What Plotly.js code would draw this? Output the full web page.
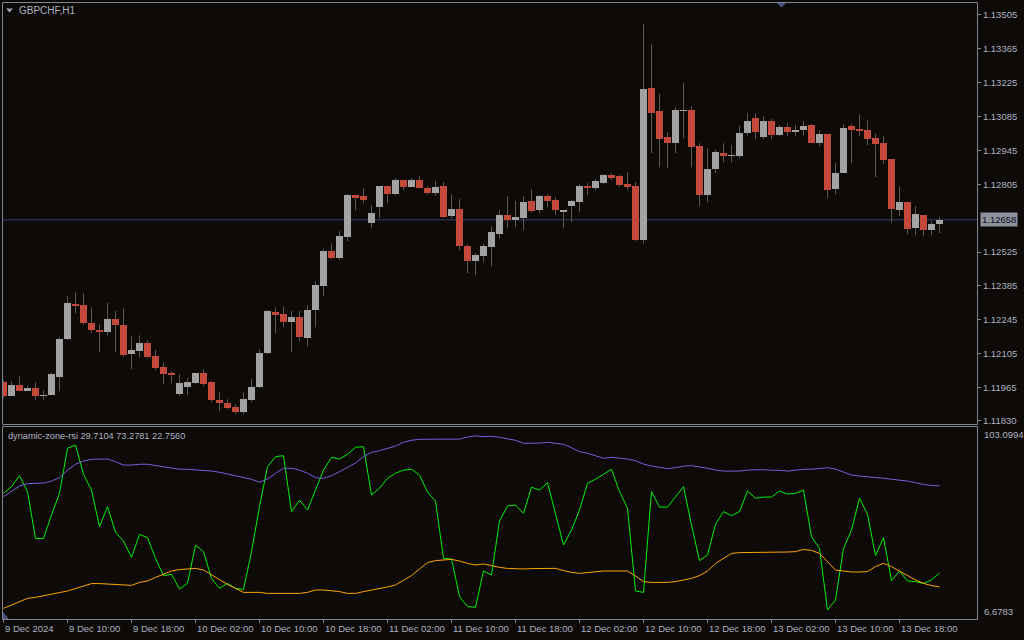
<!DOCTYPE html>
<html><head><meta charset="utf-8">
<script src="https://cdn.plot.ly/plotly-3.0.1.min.js"></script>
<style>html,body{margin:0;padding:0;background:#0d0a08;overflow:hidden}#chart{width:1024px;height:640px;}</style>
</head><body><div id="chart"></div>
<script>
// ---------------- data ----------------
const symbolLabel = "GBPCHF,H1";
const indicatorName = "dynamic-zone-rsi";

const open = [1.11987,1.11930,1.11975,1.11950,1.11963,1.11930,1.11934,1.12008,1.12165,1.12309,
1.12305,1.12231,1.12202,1.12194,1.12248,1.12223,1.12103,1.12115,1.12148,1.12095,
1.12049,1.12025,1.11938,1.11967,1.11983,1.12025,1.11987,1.11913,1.11901,1.11884,
1.11863,1.11913,1.11967,1.12107,1.12276,1.12268,1.12235,1.12256,1.12169,1.12285,
1.12384,1.12528,1.12499,1.12586,1.12760,1.12756,1.12644,1.12710,1.12797,1.12764,
1.12822,1.12793,1.12822,1.12789,1.12768,1.12797,1.12673,1.12702,1.12549,1.12487,
1.12508,1.12545,1.12599,1.12677,1.12656,1.12665,1.12735,1.12698,1.12756,1.12739,
1.12689,1.12714,1.12731,1.12797,1.12789,1.12809,1.12842,1.12838,1.12805,1.12797,
1.12574,1.13202,1.13107,1.12999,1.12974,1.13107,1.13111,1.12962,1.12760,1.12867,
1.12933,1.12921,1.12921,1.13016,1.13078,1.12999,1.13065,1.13007,1.13041,1.13020,
1.13028,1.13049,1.12974,1.13012,1.12784,1.12851,1.13045,1.13032,1.13028,1.12995,
1.12974,1.12908,1.12698,1.12731,1.12623,1.12677,1.12615,1.12640];

const high = [1.11996,1.11992,1.12012,1.11971,1.11987,1.11954,1.12025,1.12173,1.12343,1.12359,
1.12355,1.12297,1.12227,1.12314,1.12281,1.12293,1.12177,1.12181,1.12161,1.12120,
1.12070,1.12033,1.12020,1.12004,1.12025,1.12041,1.11992,1.11946,1.11917,1.11897,
1.11946,1.12000,1.12124,1.12285,1.12297,1.12301,1.12281,1.12281,1.12305,1.12404,
1.12537,1.12561,1.12611,1.12764,1.12760,1.12789,1.12718,1.12797,1.12797,1.12830,
1.12822,1.12830,1.12838,1.12797,1.12818,1.12813,1.12764,1.12743,1.12557,1.12520,
1.12561,1.12632,1.12698,1.12756,1.12735,1.12756,1.12784,1.12760,1.12764,1.12751,
1.12698,1.12739,1.12805,1.12809,1.12826,1.12846,1.12851,1.12842,1.12855,1.12813,
1.13466,1.13383,1.13177,1.13020,1.13123,1.13222,1.13127,1.12974,1.12954,1.12946,
1.12974,1.12966,1.13045,1.13098,1.13098,1.13086,1.13074,1.13049,1.13057,1.13049,
1.13065,1.13053,1.13028,1.13012,1.12892,1.13053,1.13053,1.13094,1.13069,1.13012,
1.13003,1.12908,1.12797,1.12731,1.12714,1.12677,1.12652,1.12669];

const low = [1.11921,1.11930,1.11950,1.11950,1.11913,1.11913,1.11934,1.11950,1.12161,1.12272,
1.12223,1.12190,1.12111,1.12181,1.12111,1.12091,1.12041,1.12091,1.12087,1.12037,
1.11979,1.11983,1.11930,1.11934,1.11979,1.11971,1.11905,1.11868,1.11876,1.11855,
1.11855,1.11905,1.11963,1.12103,1.12190,1.12214,1.12111,1.12157,1.12136,1.12214,
1.12343,1.12495,1.12491,1.12570,1.12698,1.12727,1.12623,1.12665,1.12727,1.12760,
1.12780,1.12793,1.12789,1.12764,1.12756,1.12665,1.12665,1.12533,1.12438,1.12429,
1.12483,1.12466,1.12582,1.12623,1.12628,1.12615,1.12689,1.12685,1.12710,1.12677,
1.12623,1.12648,1.12689,1.12760,1.12780,1.12805,1.12822,1.12793,1.12780,1.12570,
1.12561,1.12933,1.12875,1.12871,1.12933,1.12995,1.12875,1.12714,1.12731,1.12851,
1.12896,1.12896,1.12912,1.13007,1.12991,1.12991,1.12991,1.13003,1.13003,1.13003,
1.13007,1.12974,1.12962,1.12747,1.12764,1.12851,1.12892,1.13003,1.12966,1.12834,
1.12888,1.12644,1.12673,1.12599,1.12594,1.12590,1.12594,1.12603];

const close = [1.11930,1.11975,1.11950,1.11963,1.11930,1.11934,1.12020,1.12165,1.12314,1.12301,
1.12231,1.12202,1.12194,1.12248,1.12223,1.12099,1.12120,1.12148,1.12091,1.12045,
1.12020,1.12016,1.11983,1.11987,1.12025,1.11979,1.11913,1.11901,1.11880,1.11863,
1.11917,1.11967,1.12107,1.12281,1.12264,1.12235,1.12256,1.12173,1.12285,1.12388,
1.12528,1.12499,1.12590,1.12760,1.12747,1.12739,1.12685,1.12797,1.12764,1.12822,
1.12793,1.12822,1.12789,1.12768,1.12793,1.12669,1.12702,1.12549,1.12487,1.12512,
1.12549,1.12607,1.12677,1.12656,1.12669,1.12731,1.12694,1.12756,1.12735,1.12698,
1.12698,1.12735,1.12797,1.12789,1.12818,1.12842,1.12830,1.12801,1.12793,1.12574,
1.13197,1.13098,1.12991,1.12974,1.13111,1.13111,1.12958,1.12760,1.12867,1.12937,
1.12921,1.12925,1.13016,1.13065,1.13020,1.13065,1.13007,1.13041,1.13020,1.13028,
1.13045,1.12974,1.13012,1.12780,1.12851,1.13036,1.13028,1.13024,1.12991,1.12970,
1.12904,1.12702,1.12731,1.12619,1.12681,1.12615,1.12640,1.12658];

const rsi = [69.6,72.9,78.4,70.4,47.0,47.0,58.7,69.6,92.1,93.7,
79.1,71.2,52.9,62.9,50.0,45.7,37.5,49.0,47.4,37.0,
28.4,29.0,21.7,24.5,43.7,40.4,27.0,22.0,24.5,22.0,
21.5,40.4,62.9,82.9,87.9,88.4,60.4,66.1,61.2,71.2,
81.2,87.6,86.7,89.1,92.6,92.9,68.7,72.1,77.1,79.6,
81.2,81.6,78.7,70.1,65.7,37.0,36.7,17.9,12.9,12.5,
30.7,28.7,55.7,63.2,63.7,59.6,72.6,71.2,74.9,59.4,
43.7,51.2,61.2,74.6,76.6,79.1,81.6,70.4,62.1,20.7,
20.0,70.4,62.7,62.7,67.9,72.9,53.7,35.9,38.7,54.1,
60.4,58.4,60.4,70.7,67.1,67.7,67.7,70.7,69.2,69.6,
71.1,47.9,42.0,11.2,16.2,42.0,51.2,67.1,59.1,38.4,
47.4,25.9,30.7,25.7,25.4,24.5,26.2,29.7104];

const upperZone = [67.9,70.7,73.2,74.4,74.6,74.7,75.7,77.4,81.2,84.1,
85.7,86.6,86.7,86.7,85.4,83.7,83.7,84.1,84.1,83.4,
82.9,82.1,81.6,81.6,81.4,80.9,80.7,80.1,79.2,78.4,
77.7,76.6,75.1,76.7,79.6,82.1,82.1,81.2,79.6,77.4,
77.1,78.4,80.4,82.4,84.7,87.9,90.1,90.9,92.1,93.2,
95.1,96.1,96.6,96.6,96.9,96.9,96.6,96.7,97.7,98.3,
97.9,98.1,97.6,96.9,96.1,94.6,94.6,94.7,95.1,94.7,
94.1,92.4,90.4,89.6,88.2,87.1,87.6,87.2,86.7,85.9,
84.2,83.2,82.4,81.9,82.4,83.2,83.4,82.9,82.1,81.2,
80.7,80.7,80.7,81.2,81.4,81.4,81.1,81.1,80.7,81.2,
81.6,81.6,82.1,82.4,81.7,80.1,78.7,78.2,77.9,77.4,
77.1,76.6,76.2,75.7,74.9,74.0,73.5,73.2781];

const lowerZone = [12.0,13.7,15.4,17.0,17.5,18.2,19.0,19.9,20.7,22.0,
23.4,24.4,24.4,24.2,23.9,23.5,23.5,25.0,25.7,27.5,
29.0,30.7,31.4,31.7,32.0,31.2,28.7,26.2,24.0,22.0,
20.0,20.0,20.0,19.5,19.5,19.5,19.5,19.5,20.0,21.2,
21.2,20.9,20.4,19.5,19.5,20.4,21.2,21.7,22.7,23.7,
26.2,28.4,31.7,34.9,35.9,36.2,36.5,35.7,34.5,33.7,
34.2,33.4,32.5,32.0,31.7,31.7,31.9,32.0,32.0,32.0,
30.9,30.0,29.5,30.0,30.4,30.7,30.7,30.7,30.7,28.2,
25.4,25.0,25.0,25.0,25.4,26.2,27.0,28.4,30.7,34.5,
37.0,39.5,39.9,39.9,40.2,40.2,40.2,40.2,40.2,40.4,
41.5,41.0,39.5,35.4,31.2,30.7,30.2,30.2,30.4,32.9,
34.5,32.9,30.7,28.2,26.2,24.5,23.4,22.756];

const priceTicks = [1.13505,1.13365,1.13225,1.13085,1.12945,1.12805,1.12525,1.12385,1.12245,1.12105,1.11965,1.11830];
const timeTickIndex = [0,8,16,24,32,40,48,56,64,72,80,88,96,104,112];
const timeTickLabels = ["9 Dec 2024","9 Dec 10:00","9 Dec 18:00","10 Dec 02:00","10 Dec 10:00","10 Dec 18:00",
"11 Dec 02:00","11 Dec 10:00","11 Dec 18:00","12 Dec 02:00","12 Dec 10:00","12 Dec 18:00",
"13 Dec 02:00","13 Dec 10:00","13 Dec 18:00"];
const bidPrice = 1.12658;
const indMax = 103.0994, indMin = 6.6783;
const priceMin = 1.11814, priceMax = 1.13553;

// ---------------- styling ----------------
const BG = '#0d0a08';
const BULL = '#a3a3a3', BEAR = '#c4493a', WICK = '#575757';
const FRAME = '#7f8495', TXT = '#aeb3c1';
const FONT = 'Liberation Sans, Arial, sans-serif';
const AXFS = 9.5;

const n = open.length;
const idx = open.map((_, i) => i);

// layout helpers: pixel -> paper coords
const L = 3, R = 977, T = 3, B = 619;
const PX = p => (p - L) / (R - L);
const PY = p => (B - p) / (B - T);

// bodies
const bullX = [], bullBase = [], bullH = [], bearX = [], bearBase = [], bearH = [];
const minBody = 0.00004;
for (let i = 0; i < n; i++) {
  if (close[i] >= open[i]) { bullX.push(i); bullBase.push(open[i]); bullH.push(Math.max(close[i] - open[i], minBody)); }
  else { bearX.push(i); bearBase.push(close[i]); bearH.push(Math.max(open[i] - close[i], minBody)); }
}
// wicks (upper and lower parts, not crossing bodies)
const wx = [], wy = [];
for (let i = 0; i < n; i++) {
  const top = Math.max(open[i], close[i]), bot = Math.min(open[i], close[i]);
  if (high[i] > top) { wx.push(i, i, null); wy.push(high[i], top, null); }
  if (low[i] < bot) { wx.push(i, i, null); wy.push(bot, low[i], null); }
}

const traces = [
  {type: 'scatter', mode: 'lines', x: wx, y: wy, line: {color: WICK, width: 1}, xaxis: 'x', yaxis: 'y', hoverinfo: 'skip', connectgaps: false},
  {type: 'bar', x: bullX, y: bullH, base: bullBase, width: 0.875, marker: {color: BULL, line: {width: 0}}, xaxis: 'x', yaxis: 'y'},
  {type: 'bar', x: bearX, y: bearH, base: bearBase, width: 0.875, marker: {color: BEAR, line: {width: 0}}, xaxis: 'x', yaxis: 'y'},
  {type: 'scatter', mode: 'lines', x: idx, y: rsi, line: {color: '#00f000', width: 1}, xaxis: 'x2', yaxis: 'y2'},
  {type: 'scatter', mode: 'lines', x: idx, y: upperZone, line: {color: '#7462e0', width: 1}, xaxis: 'x2', yaxis: 'y2'},
  {type: 'scatter', mode: 'lines', x: idx, y: lowerZone, line: {color: '#ffa500', width: 1}, xaxis: 'x2', yaxis: 'y2'}
];

const xRange = [-0.0625, 121.6875];
const mainBottom = PY(424.3), indTop = PY(426.3);

const shapes = [
  {type: 'line', xref: 'paper', yref: 'y', x0: 0, x1: 1, y0: bidPrice, y1: bidPrice, line: {color: '#3a3d6c', width: 1}, layer: 'below'},
  {type: 'rect', xref: 'paper', yref: 'paper', x0: PX(2.5), x1: PX(977.5), y0: PY(424.5), y1: PY(2.5), line: {color: FRAME, width: 1}},
  {type: 'rect', xref: 'paper', yref: 'paper', x0: PX(2.5), x1: PX(977.5), y0: PY(619.5), y1: PY(426.5), line: {color: FRAME, width: 1}},
  {type: 'path', xref: 'paper', yref: 'paper', path: `M ${PX(777)} ${PY(3)} L ${PX(786)} ${PY(3)} L ${PX(781.5)} ${PY(7.5)} Z`, fillcolor: '#4a5082', line: {width: 0}},
  {type: 'path', xref: 'paper', yref: 'paper', path: `M ${PX(6)} ${PY(8.5)} L ${PX(13)} ${PY(8.5)} L ${PX(9.5)} ${PY(12.5)} Z`, fillcolor: '#a0a4b0', line: {width: 0}},
  {type: 'path', xref: 'paper', yref: 'paper', path: `M ${PX(3)} ${PY(612)} L ${PX(3)} ${PY(619)} L ${PX(9)} ${PY(619)} Z`, fillcolor: '#4a5082', line: {width: 0}}
];

// time-axis labels: left-aligned starting at each tick, below the indicator panel
const timeAnnotations = timeTickIndex.map((k, j) => ({
  xref: 'x2', yref: 'paper', x: k, y: PY(628.5), xanchor: 'left', yanchor: 'middle', xshift: -1,
  text: timeTickLabels[j], showarrow: false, font: {family: FONT, size: AXFS, color: TXT}
}));

const annotations = [
  {xref: 'paper', yref: 'paper', x: PX(17), y: PY(10.5), xanchor: 'left', yanchor: 'middle', text: symbolLabel, showarrow: false, font: {family: FONT, size: 10, color: TXT}},
  {xref: 'paper', yref: 'paper', x: PX(6), y: PY(435.5), xanchor: 'left', yanchor: 'middle',
   text: `${indicatorName} ${rsi[n-1].toFixed(4)} ${upperZone[n-1].toFixed(4)} ${lowerZone[n-1].toFixed(4)}`, showarrow: false, font: {family: FONT, size: 9.2, color: TXT}},
  {xref: 'paper', yref: 'paper', x: PX(982), y: PY(434.5), xanchor: 'left', yanchor: 'middle', text: indMax.toFixed(4), showarrow: false, font: {family: FONT, size: AXFS, color: TXT}},
  {xref: 'paper', yref: 'paper', x: PX(982), y: PY(611), xanchor: 'left', yanchor: 'middle', text: indMin.toFixed(4), showarrow: false, font: {family: FONT, size: AXFS, color: TXT}},
  {xref: 'paper', yref: 'y', x: PX(980), y: bidPrice, xanchor: 'left', yanchor: 'middle', text: bidPrice.toFixed(5), showarrow: false,
   bgcolor: '#8d919d', borderpad: 1, font: {family: FONT, size: AXFS, color: '#0e0e18'}}
].concat(timeAnnotations);

const axCommon = {showgrid: false, zeroline: false, showline: false, fixedrange: true};

const layout = {
  width: 1024, height: 640,
  paper_bgcolor: BG, plot_bgcolor: BG,
  margin: {l: L, r: 1024 - R, t: T, b: 640 - B, pad: 0},
  showlegend: false, hovermode: false, barmode: 'overlay', bargap: 0,
  font: {family: FONT, size: 10, color: TXT},
  xaxis: Object.assign({}, axCommon, {domain: [0, 1], range: xRange, anchor: 'y', showticklabels: false, ticks: ''}),
  xaxis2: Object.assign({}, axCommon, {domain: [0, 1], range: xRange, anchor: 'y2', matches: 'x',
    tickmode: 'array', tickvals: timeTickIndex, ticks: 'outside', ticklen: 3, tickwidth: 1, tickcolor: FRAME,
    showticklabels: false}),
  yaxis: Object.assign({}, axCommon, {domain: [mainBottom, 1], range: [priceMin, priceMax], anchor: 'x', side: 'right',
    tickmode: 'array', tickvals: priceTicks, ticktext: priceTicks.map(v => v.toFixed(5)), ticks: 'outside', ticklen: 3, tickwidth: 1, tickcolor: FRAME,
    tickfont: {family: FONT, size: AXFS, color: TXT}}),
  yaxis2: Object.assign({}, axCommon, {domain: [0, indTop], range: [indMin, indMax], anchor: 'x2', side: 'right', showticklabels: false, ticks: ''}),
  shapes: shapes,
  annotations: annotations
};

Plotly.newPlot('chart', traces, layout, {staticPlot: true, displayModeBar: false});
</script>
</body></html>
